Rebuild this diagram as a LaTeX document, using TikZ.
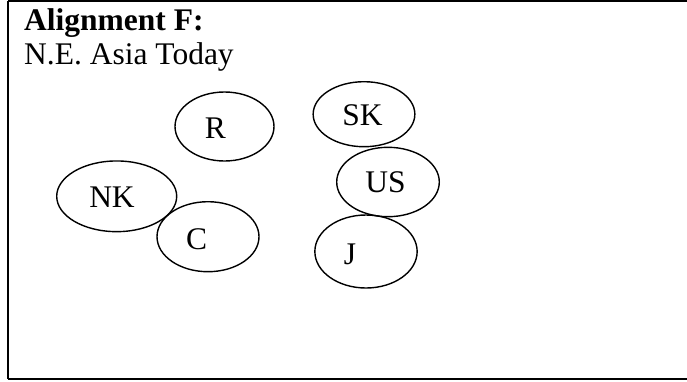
\documentclass[tikz,border=0pt]{standalone}
\usepackage{fontspec}
\setmainfont{Liberation Serif}
\usetikzlibrary{shapes.geometric}
\begin{document}
\begin{tikzpicture}[x=1pt,y=-1pt,
  country/.style={draw=black,ellipse,line width=1.4pt,inner sep=0pt},
  lab/.style={anchor=base,inner sep=0pt,font=\fontsize{31.5}{36}\selectfont},
  title/.style={anchor=base west,inner sep=0pt,font=\fontsize{31.5}{36}\selectfont}]
\useasboundingbox (0,0) rectangle (687,381);
\begin{scope}
\clip (0,0) rectangle (687,381);
\draw[line width=2.2pt] (8,1.2) -- (700,1.2) (8,1.2) -- (8,378.8) (8,378.8) -- (700,378.8);
\end{scope}
\node[title,font=\bfseries\fontsize{31.5}{36}\selectfont] (t1) at (24,30) {Alignment F:};
\node[title] (t2) at (24,64) {N.E. Asia Today};
\node[country,minimum width=99pt,minimum height=69pt] (R) at (224.5,126.5) {};
\node[country,minimum width=120pt,minimum height=70.7pt] (NK) at (116.7,196.3) {};
\node[country,minimum width=102pt,minimum height=70pt] (C) at (208,236.7) {};
\node[country,minimum width=101.7pt,minimum height=65pt] (SK) at (364,114.2) {};
\node[country,minimum width=102.6pt,minimum height=69.4pt] (US) at (388,182) {};
\node[country,minimum width=102.3pt,minimum height=73pt] (J) at (366,251.5) {};
\node[lab] (Rl) at (215.5,138) {R};
\node[lab] (NKl) at (112,207.3) {NK};
\node[lab] (Cl) at (196.7,249.3) {C};
\node[lab] (SKl) at (362.5,125) {SK};
\node[lab] (USl) at (385.5,192.7) {US};
\node[lab] (Jl) at (350,264.5) {J};
\end{tikzpicture}
\end{document}
